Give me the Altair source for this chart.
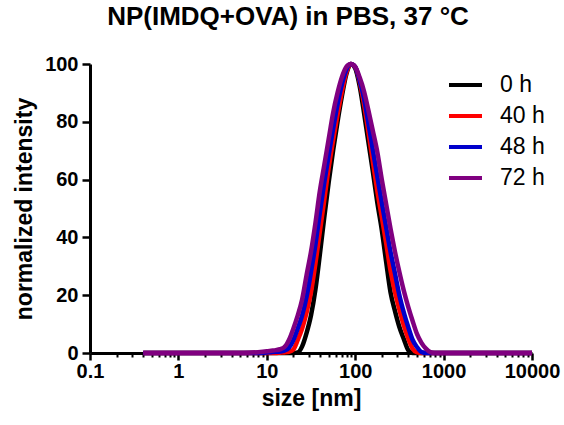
import altair as alt
import pandas as pd

FONT = "Liberation Sans"

# particle size grid (nm)
sizes = [0.4, 1, 2, 5, 6.31, 7.94, 10, 11.2, 12.6, 14.1, 15.8, 17.8,
         20.0, 22.4, 25.1, 28.2, 31.6, 35.5, 39.8, 44.7, 50.1, 56.2, 63.1, 70.8, 79.4, 89.1,
         100, 112, 126, 141, 158, 178, 200, 224, 251, 282, 316, 355, 398, 447, 501, 562, 631, 708, 794,
         1000, 2000, 5000, 10000]

h0 = [0, 0, 0, 0, 0, 0, 0, 0, 0, 0, 0, 0,
      0, 0.2, 2.3, 7, 13, 22, 34, 47, 59, 70, 80, 89, 96.5, 100,
      98.5, 92.5, 83, 73, 63, 52, 42.5, 31.5, 21, 14.5, 9, 4.8, 1, 0, 0, 0, 0, 0, 0,
      0, 0, 0, 0]

h40 = [0, 0, 0, 0, 0, 0, 0, 0, 0, 0.1, 0.2, 0.4,
       1.2, 4.5, 8.5, 14, 21, 31, 42, 53, 64, 73.5, 82.5, 90.5, 97, 100,
       99, 94, 86, 76.5, 66.5, 56, 47, 38, 28.5, 21, 15, 9.5, 5, 1.5, 0.2, 0, 0, 0, 0,
       0, 0, 0, 0]

h48 = [0, 0, 0, 0, 0, 0, 0.2, 0.3, 0.4, 0.5, 0.8, 1.8,
       4.5, 8.5, 13, 19.5, 28, 37.5, 48.5, 59, 68.5, 77.5, 86, 93, 98, 100,
       99, 94.5, 88, 79.5, 70.5, 61, 52, 43.5, 35, 27.5, 20, 14, 9, 4.5, 2, 0.3, 0, 0, 0,
       0, 0, 0, 0]

h72 = [0, 0, 0, 0, 0.1, 0.3, 0.6, 0.8, 1.0, 1.3, 2.0, 4.5,
       8.5, 13, 18.5, 27, 35, 45, 56, 65, 74, 83, 90, 95.5, 99, 100,
       99, 95.5, 90.5, 84, 77, 69.5, 60, 51.5, 43, 35, 28, 21.5, 16, 11, 6.5, 3.5, 1.5, 0.3, 0,
       0, 0, 0, 0]

series_names = ["0 h", "40 h", "48 h", "72 h"]
series_values = [h0, h40, h48, h72]
colors = ["#000000", "#FF0000", "#0000CC", "#800080"]

major_ticks = [0.1, 1, 10, 100, 1000, 10000]
minor_ticks = [m * d for d in [0.1, 1, 10, 100, 1000] for m in range(2, 10)]
y_ticks = [0, 20, 40, 60, 80, 100]

rows = []
for name, vals in zip(series_names, series_values):
    for s, v in zip(sizes, vals):
        rows.append({"size": s, "intensity": v, "series": name})
df = pd.DataFrame(rows)

xscale = alt.Scale(type="log", domain=[0.1, 10000])

lines = alt.Chart(df).mark_line(strokeWidth=4.5, interpolate="monotone").encode(
    x=alt.X("size:Q", scale=xscale,
            axis=alt.Axis(values=major_ticks, format="~g", title="size [nm]", orient="bottom",
                          titleFont=FONT, titleFontSize=23, titleFontWeight="bold",
                          titleX=221, titleY=52, titleBaseline="alphabetic",
                          labelFont=FONT, labelFontSize=20, labelFontWeight="bold",
                          labelPadding=1, tickSize=7, tickWidth=2.5, domainWidth=3,
                          labelFlush=False, labelOverlap=False, grid=False,
                          domainColor="black", tickColor="black", labelColor="black",
                          titleColor="black")),
    y=alt.Y("intensity:Q", scale=alt.Scale(domain=[0, 100]),
            axis=alt.Axis(values=y_ticks, title="normalized intensity",
                          titleFont=FONT, titleFontSize=23, titleFontWeight="bold",
                          titleX=-59, titleY=144.5, titleBaseline="alphabetic",
                          labelFont=FONT, labelFontSize=20, labelFontWeight="bold",
                          labelPadding=4, tickSize=8, tickWidth=2.5, domainWidth=3,
                          grid=False, domainColor="black", tickColor="black",
                          labelColor="black", titleColor="black")),
    color=alt.Color("series:N", scale=alt.Scale(domain=series_names, range=colors),
                    legend=alt.Legend(title=None, orient="none", legendX=357, legendY=2.5,
                                      symbolType="stroke", symbolSize=1089,
                                      symbolStrokeWidth=4, labelFont=FONT,
                                      labelFontSize=23, labelColor="black",
                                      labelOffset=16, rowPadding=0, padding=0)),
)

minor = alt.Chart(df).mark_point(opacity=0).encode(
    x=alt.X("size:Q", scale=xscale,
            axis=alt.Axis(values=minor_ticks, labels=False, domain=False, title="",
                          tickSize=4, tickWidth=2, grid=False, tickColor="black",
                          orient="bottom")),
)

chart = alt.layer(minor, lines).resolve_axis(x="independent").properties(
    width=442, height=289,
    autosize=alt.AutoSizeParams(type="none"),
    padding={"left": 90, "top": 64, "right": 32, "bottom": 72},
    title=alt.TitleParams("NP(IMDQ+OVA) in PBS, 37 °C", font=FONT, fontSize=26,
                          fontWeight="bold", anchor="middle", dx=-23, dy=23, offset=26,
                          baseline="alphabetic", color="black"),
).configure_view(stroke=None)

chart.save("out.html", embed_options={"renderer": "svg", "actions": False})
